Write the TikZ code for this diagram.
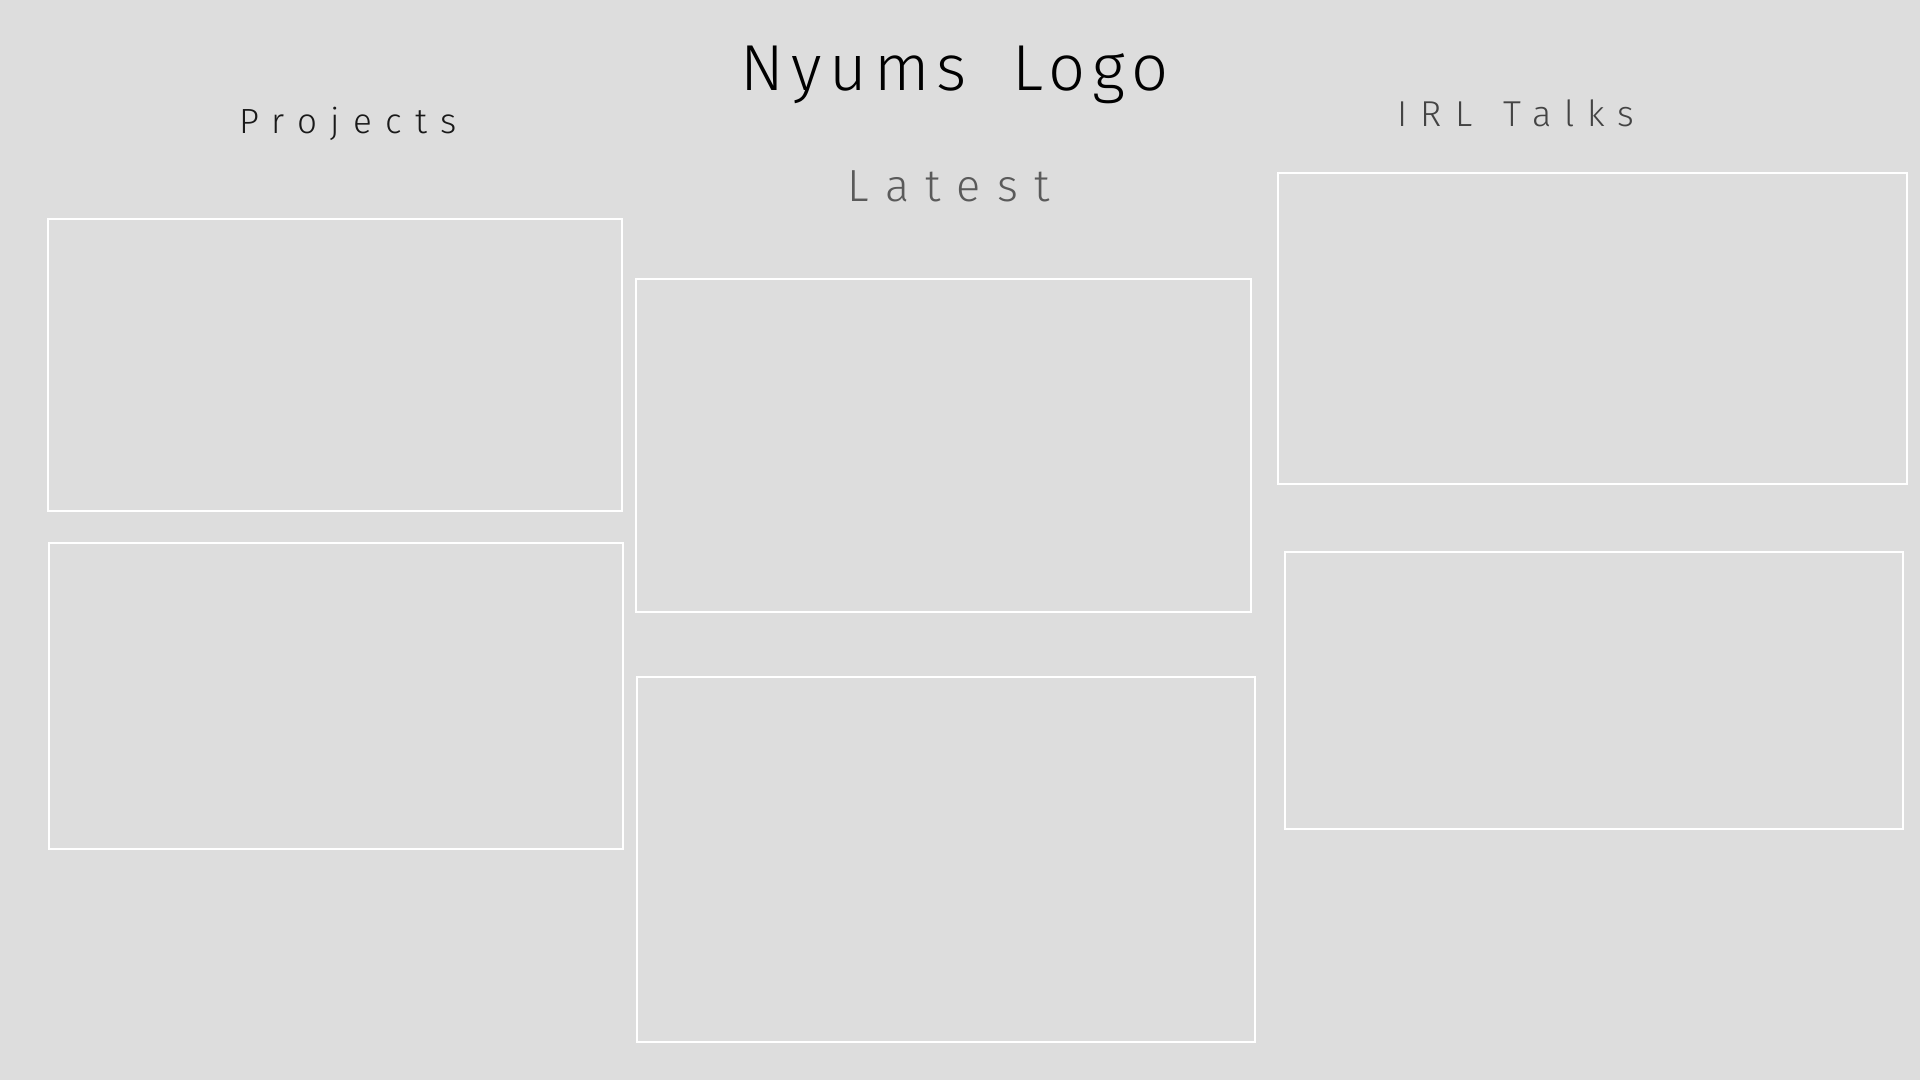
\documentclass[tikz,border=0pt]{standalone}
\usepackage{fontspec}
\IfFontExistsTF{Fira Sans Light}{\newfontfamily\thinfont{Fira Sans Light}}{%
  \IfFontExistsTF{Fira Sans ExtraLight}{\newfontfamily\thinfont{Fira Sans ExtraLight}}{%
    \newfontfamily\thinfont{Fira Sans}}}
\definecolor{bg}{HTML}{DDDDDD}
\definecolor{latestgray}{HTML}{5A5A5A}
\definecolor{irlgray}{HTML}{444444}
\tikzset{
  card/.style={draw=white, line width=2pt, fill=none, inner sep=0pt},
  title/.style={inner sep=0pt, anchor=base}
}
\begin{document}
\begin{tikzpicture}[x=1pt,y=-1pt]
\fill[bg] (0,0) rectangle (1920,1080);
\useasboundingbox (0,0) rectangle (1920,1080);
% cards
\node[card, minimum width=574pt, minimum height=291.4pt] (p1) at ({(47.8+622)/2},{(219.2+510.6)/2}) {};
\node[card, minimum width=574.3pt, minimum height=306.1pt] (p2) at ({(49+623.3)/2},{(542.5+848.6)/2}) {};
\node[card, minimum width=615.9pt, minimum height=333.1pt] (l1) at ({(635.5+1251.4)/2},{(279.2+612.3)/2}) {};
\node[card, minimum width=618.4pt, minimum height=364.9pt] (l2) at ({(636.7+1255.1)/2},{(677.1+1042)/2}) {};
\node[card, minimum width=628.1pt, minimum height=311pt] (t1) at ({(1278.4+1906.5)/2},{(172.7+483.7)/2}) {};
\node[card, minimum width=618.4pt, minimum height=276.8pt] (t2) at ({(1284.5+1902.9)/2},{(552.2+829)/2}) {};
% titles
\node[title, text=black] (logo) at (955,90) {\thinfont\addfontfeature{LetterSpace=11}\fontsize{65}{70}\selectfont Nyums\hspace{20pt} Logo};
\node[title, text=black!90] (proj) at (348,133) {\thinfont\addfontfeature{LetterSpace=38}\fontsize{35}{40}\selectfont Projects};
\node[title, text=latestgray] (latest) at (949,201.5) {\thinfont\addfontfeature{LetterSpace=36.4}\fontsize{45}{50}\selectfont Latest};
\node[title, text=irlgray] (irl) at (1516,126) {\thinfont\addfontfeature{LetterSpace=36}\fontsize{36}{40}\selectfont IRL\hspace{8pt} Talks};
\end{tikzpicture}
\end{document}
